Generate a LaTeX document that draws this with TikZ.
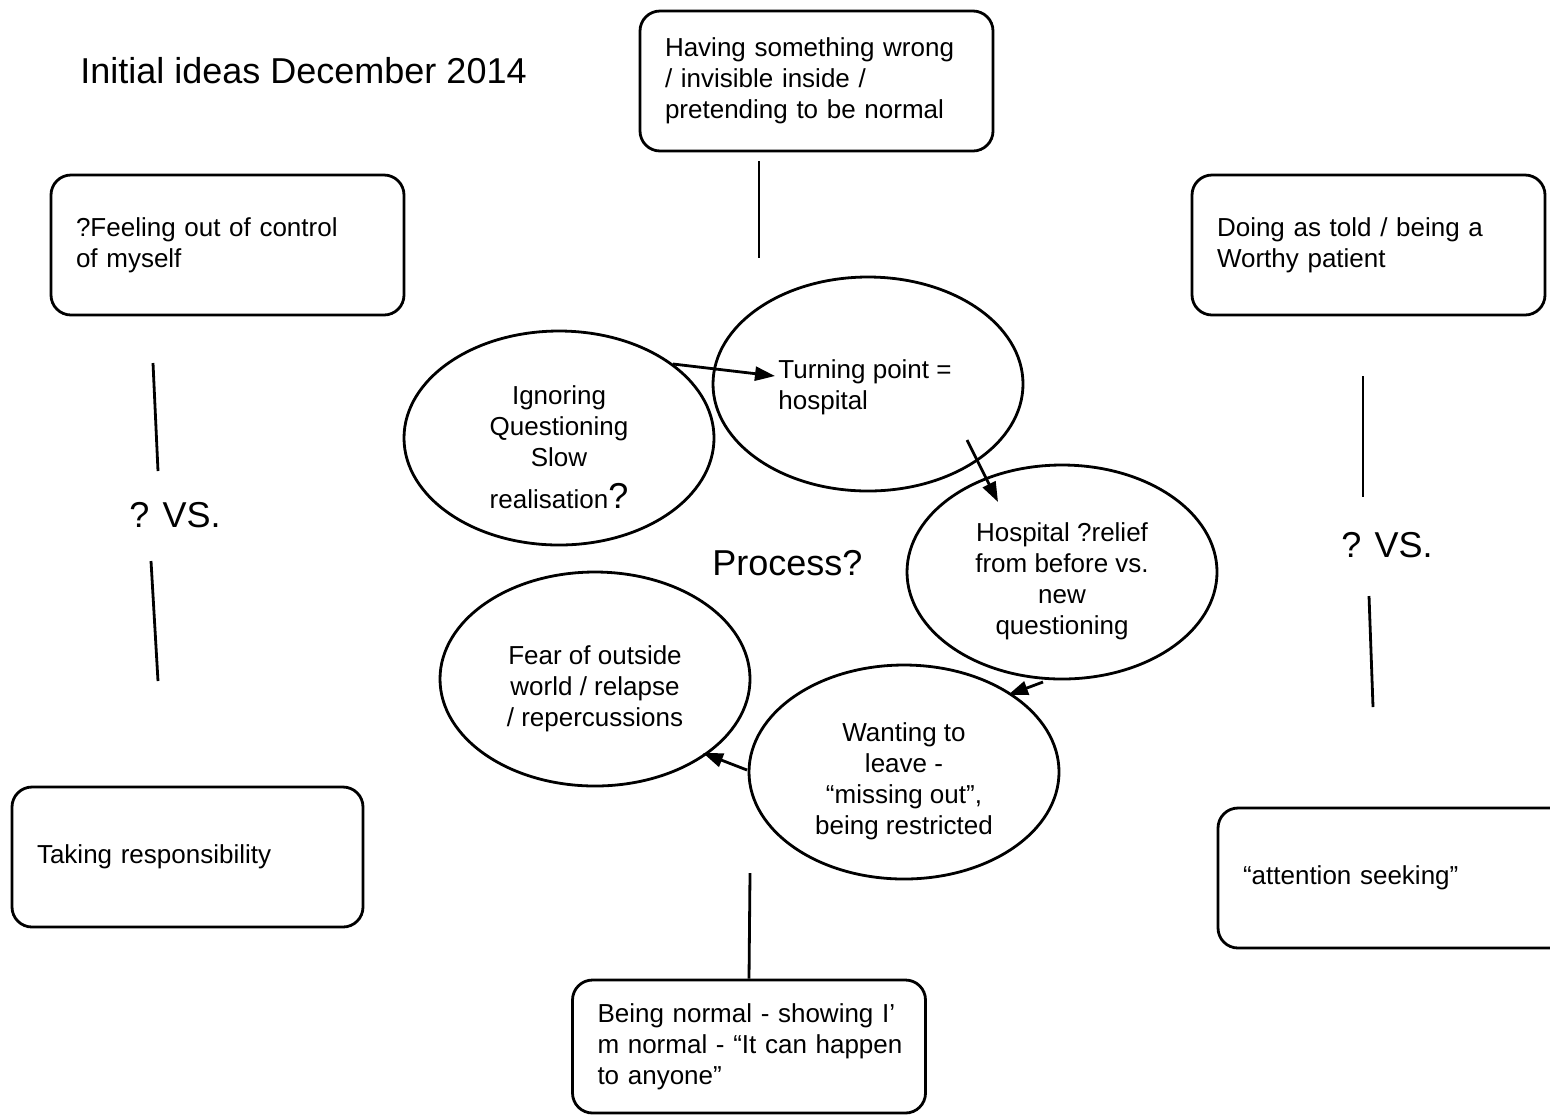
\documentclass[tikz,border=0pt]{standalone}
\usepackage{fontspec}
\setmainfont{Liberation Sans}
\usepackage{tikz}
\usetikzlibrary{positioning}
\usetikzlibrary{arrows.meta}
\usetikzlibrary{shapes.geometric}

\newcommand{\mapfont}{\fontsize{13pt}{15.5pt}\selectfont}
\newcommand{\mapbigfont}{\fontsize{18pt}{22pt}\selectfont}
\newcommand{\toppad}{\rule{0pt}{19pt}}

\tikzset{
    ideabox/.style={draw, rounded corners=10pt, line width=1.4pt, minimum height=70pt,
        text width=151.5pt, inner xsep=12.5pt, inner ysep=0pt, align=left, font=\mapfont},
    bubble/.style={draw, ellipse, line width=1.4pt, minimum width=155pt, minimum height=107pt,
        inner sep=0pt, align=center, font=\mapfont},
    flow/.style={-{Triangle[length=10pt, width=7pt]}, line width=1.4pt},
    bar/.style={line width=1.4pt},
    bigtext/.style={font=\mapbigfont, inner sep=0pt}
}

\begin{document}
\begin{tikzpicture}[x=0.5pt, y=-0.5pt]
    \useasboundingbox[fill=white] (0,0) rectangle (1550,1115);

    \node[bigtext, anchor=base west] (title) at (80,83) {Initial ideas December 2014};

    % boxes round the outside
    \node[ideabox] (wrong) at (816.5,81) {Having something wrong\\ / invisible inside /\\ pretending to be normal};
    \node[ideabox] (control) at (227.5,245) {?Feeling out of control\\ of myself};
    \node[ideabox] (worthy) at (1368.5,245) {Doing as told / being a\\ Worthy patient};
    \node[ideabox, text width=150.5pt] (resp) at (187.5,857) {Taking responsibility};
    \node[ideabox] (seeking) at (1394.5,878) {“attention seeking”};
    \node[ideabox, minimum height=66.5pt] (normal) at (749,1046.5) {Being normal - showing I’\\ \mbox{m normal - “It can happen}\\ to anyone”};

    % the cycle
    \node[bubble] (ignore) at (559,438) {\toppad Ignoring\\ Questioning\\ Slow\\[5.5pt] realisation{\mapbigfont ?}};
    \node[bubble] (turn) at (868,384) {};
    \node[font=\mapfont, align=left, inner sep=0pt, anchor=north west] (turnlabel)
        at ([shift={(-90,-25)}]turn.center) {Turning point =\\ hospital};
    \node[bubble] (relief) at (1062,572) {\toppad Hospital ?relief\\ from before vs.\\ new\\ questioning};
    \node[bubble] (leave) at (904,772) {\toppad Wanting to\\ leave -\\ “missing out”,\\ being restricted};
    \node[bubble] (fear) at (595,679) {\toppad Fear of outside\\ world / relapse\\ / repercussions};

    \node[bigtext, anchor=base west] (process) at (712,575) {Process?};

    \draw[flow] ([shift={(114,-74)}]ignore.center) -- ([shift={(-93,-8)}]turn.center);
    \draw[flow] ([shift={(99,56)}]turn.center) -- ([shift={(-64,-70)}]relief.center);
    \draw[flow] ([shift={(-19,110)}]relief.center) -- ([shift={(104,-77)}]leave.center);
    \draw[flow] ([shift={(-157,-2)}]leave.center) -- ([shift={(108,74)}]fear.center);

    % versus lines
    \node[bigtext] (vsleft) at (175,515) {? VS.};
    \node[bigtext] (vsright) at (1387,545) {? VS.};

    \coordinate (topA) at (759,161);
    \coordinate (topB) at (759,258);
    \coordinate (leftA) at (153,363);
    \coordinate (leftB) at (158,471);
    \coordinate (leftC) at (151,561);
    \coordinate (leftD) at (158,681);
    \coordinate (rightA) at (1363,376);
    \coordinate (rightB) at (1363,497);
    \coordinate (rightC) at (1369,596);
    \coordinate (rightD) at (1373,707);
    \coordinate (botA) at (750,873);

    \draw[bar] (topA) -- (topB);
    \draw[bar] (leftA) -- (leftB);
    \draw[bar] (leftC) -- (leftD);
    \draw[bar] (rightA) -- (rightB);
    \draw[bar] (rightC) -- (rightD);
    \draw[bar] (botA) -- (normal.north);
\end{tikzpicture}
\end{document}
